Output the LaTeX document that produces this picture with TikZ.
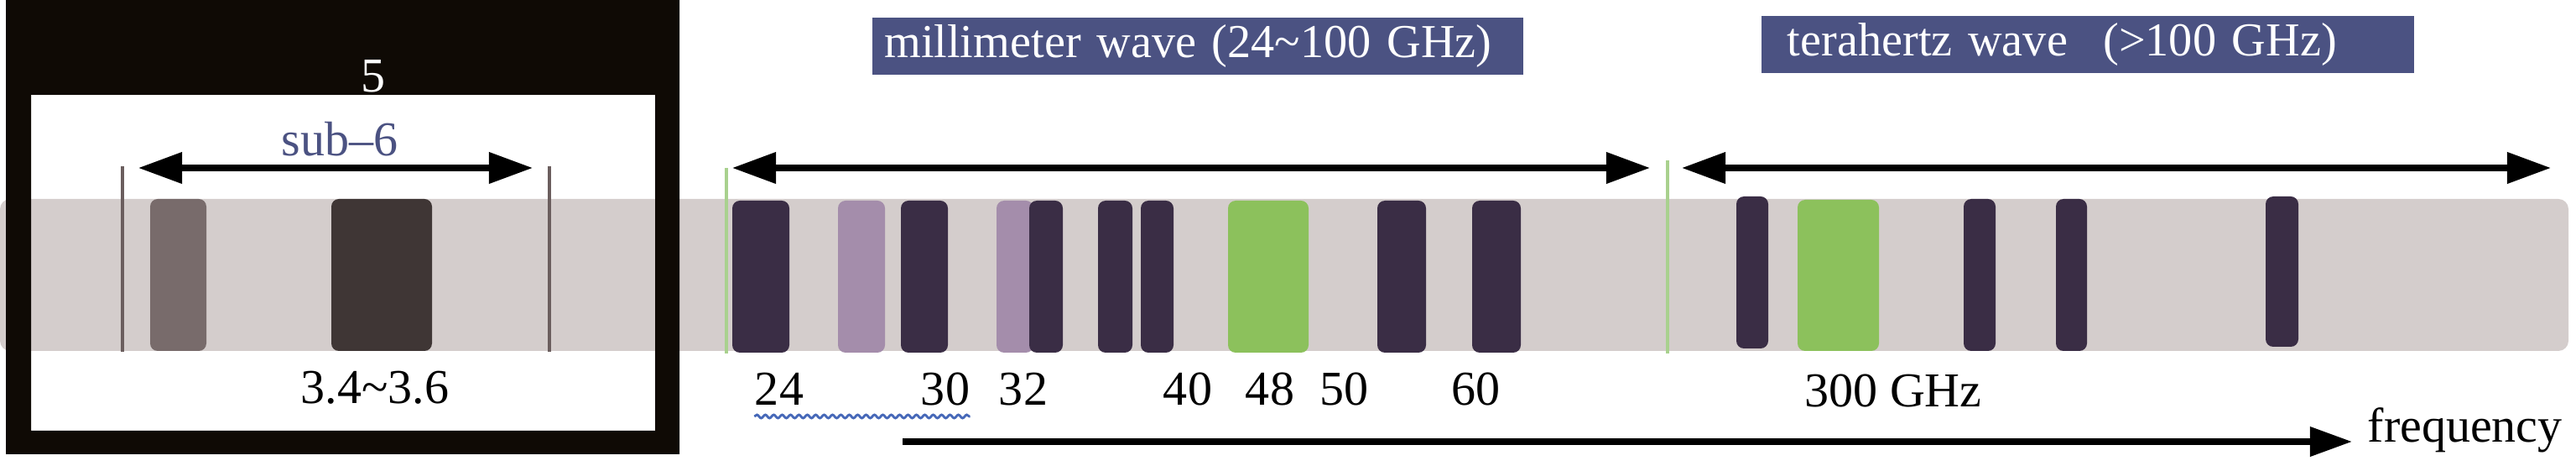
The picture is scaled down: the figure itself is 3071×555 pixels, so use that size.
\documentclass[tikz,border=0pt]{standalone}
\usepackage{fontspec}
\setmainfont{Liberation Serif}
\usetikzlibrary{arrows.meta,decorations.pathmorphing}

\definecolor{bandgray}{HTML}{D4CDCC}
\definecolor{barnavy}{HTML}{3A2D45}
\definecolor{barlilac}{HTML}{A48DAB}
\definecolor{bargreen}{HTML}{8CC15C}
\definecolor{titleblue}{HTML}{4B5282}
\definecolor{subgray}{HTML}{786B6B}
\definecolor{subdark}{HTML}{3F3635}
\definecolor{edgegreen}{HTML}{A9D18E}
\definecolor{edgegray}{HTML}{6B5E5E}
\definecolor{waveblue}{HTML}{4668B8}

\tikzset{
  bandbar/.style={rounded corners=0.9mm},
  numlabel/.style={font=\fontsize{16.5}{18}\selectfont, inner sep=0pt, anchor=base},
  titlebox/.style={fill=titleblue, text=white, font=\fontsize{16}{18}\selectfont,
    minimum height=0.68cm, inner ysep=0pt, align=left},
  spanarrow/.style={{Triangle[length=5.2mm,width=3.6mm]}-{Triangle[length=5.2mm,width=3.6mm]}, line width=2pt},
  tickline/.style={line width=1.4pt}
}

\begin{document}
\begin{tikzpicture}[x=0.01cm, y=-0.01cm]
  \useasboundingbox (0,0) rectangle (3071,555);

  % frequency band
  \fill[bandgray, rounded corners=1.2mm] (0,237) rectangle (3062,418);

  % sub-6 part
  \fill[subgray, bandbar] (179,237) rectangle (246,418);
  \fill[subdark, bandbar] (395,237) rectangle (515,418);
  \draw[tickline, edgegray] (146,198) -- (146,419);
  \draw[tickline, edgegray] (655,198) -- (655,419);
  \fill[black!92!brown, even odd rule] (7,0) rectangle (810,541) (37,113) rectangle (781,513);

  % millimeter wave part
  \fill[barnavy, bandbar] (873,239) rectangle (941,420);
  \fill[barlilac, bandbar] (999,239) rectangle (1055,420);
  \fill[barnavy, bandbar] (1074,239) rectangle (1130,420);
  \fill[barlilac, bandbar] (1188,239) rectangle (1232,420);
  \fill[barnavy, bandbar] (1227,239) rectangle (1267,420);
  \fill[barnavy, bandbar] (1309,239) rectangle (1350,420);
  \fill[barnavy, bandbar] (1360,239) rectangle (1399,420);
  \fill[bargreen, bandbar] (1464,239) rectangle (1560,420);
  \fill[barnavy, bandbar] (1642,239) rectangle (1700,420);
  \fill[barnavy, bandbar] (1755,239) rectangle (1813,420);
  \draw[tickline, edgegreen] (866,200) -- (866,421);

  % terahertz part
  \fill[barnavy, bandbar] (2070,234) rectangle (2108,415);
  \fill[bargreen, bandbar] (2143,238) rectangle (2240,418);
  \fill[barnavy, bandbar] (2341,237) rectangle (2379,418);
  \fill[barnavy, bandbar] (2451,237) rectangle (2488,418);
  \fill[barnavy, bandbar] (2701,234) rectangle (2740,413);
  \draw[tickline, edgegreen] (1988,191) -- (1988,421);

  % titles
  \node[titlebox, inner xsep=0.14cm, text width=7.47cm] (mmtitle) at (1428,55) {millimeter wave (24\textasciitilde100 GHz)};
  \node[titlebox, inner xsep=0.31cm, text width=7.16cm] (thztitle) at (2489,53) {terahertz wave\hspace{0.75em}(>100 GHz)};

  % labels
  \node[numlabel, text=white] (five) at (445,110) {5};
  \node[numlabel, text=titleblue] (sub6) at (405,186) {sub–6};
  \node[numlabel] (lowband) at (447,481) {3.4\textasciitilde3.6};
  \node[numlabel] (n24) at (929,483) {24};
  \node[numlabel] (n30) at (1127,483) {30};
  \node[numlabel] (n32) at (1220,483) {32};
  \node[numlabel] (n40) at (1416,483) {40};
  \node[numlabel] (n48) at (1514,483) {48};
  \node[numlabel] (n50) at (1602,483) {50};
  \node[numlabel] (n60) at (1759,483) {60};
  \node[numlabel] (n300) at (2257,485) {300 GHz};
  \node[numlabel, anchor=base west] (freq) at (2822,527) {frequency};
  \draw[waveblue, line width=0.8pt, decorate,
    decoration={snake, segment length=1mm, amplitude=0.2mm}]
    ([yshift=-1.3mm]n24.base west) -- ([yshift=-1.3mm]n30.base east);

  % ranges
  \coordinate (subL) at (165,200);
  \coordinate (subR) at (635,200);
  \coordinate (mmL) at (873,200);
  \coordinate (mmR) at (1967,200);
  \coordinate (thzL) at (2005,200);
  \coordinate (thzR) at (3041,200);
  \coordinate (fstart) at (1076,526);
  \draw[spanarrow] (subL) -- (subR);
  \draw[spanarrow] (mmL) -- (mmR);
  \draw[spanarrow] (thzL) -- (thzR);
  \draw[-{Triangle[length=5mm,width=3.4mm]}, line width=2pt, shorten >=1.8mm] (fstart) -- (fstart -| freq.west);
\end{tikzpicture}
\end{document}
